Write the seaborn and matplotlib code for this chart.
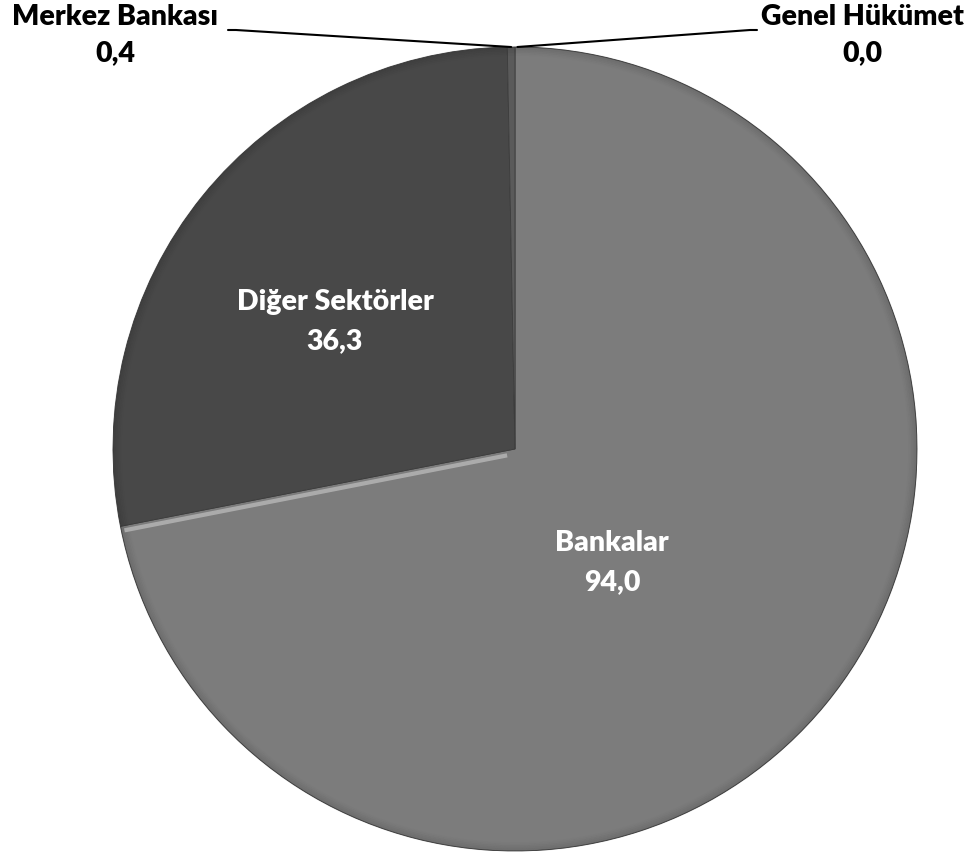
import numpy as np
import matplotlib
matplotlib.use("Agg")
import matplotlib.pyplot as plt
import seaborn as sns

# Sector shares (billion) shown clockwise from 12 o'clock
sectors = ["Genel Hükümet", "Bankalar", "Diğer Sektörler", "Merkez Bankası"]
values = [0.0, 94.0, 36.3, 0.4]
value_labels = ["0,0", "94,0", "36,3", "0,4"]
colors = ["#8a8a8a", "#7c7c7c", "#484848", "#5a5a5a"]

sns.set_theme(style="white")
plt.rcParams["font.family"] = ["Lato", "DejaVu Sans"]

W, H = 971, 855
fig = plt.figure(figsize=(W / 100, H / 100), dpi=100)
cx, cy, r = 515, 449, 402
ax = fig.add_axes([(cx - r) / W, (H - cy - r) / H, 2 * r / W, 2 * r / H])

wedges, _ = ax.pie(values, colors=colors, startangle=90, counterclock=False,
                   radius=1.0, wedgeprops=dict(edgecolor="#3c3c3c", linewidth=0.6))
ax.set_xlim(-1, 1)
ax.set_ylim(-1, 1)
ax.axis("off")

# soft darker rim for the bevel look
for k, a in enumerate(np.linspace(0.12, 0.01, 6)):
    circ = plt.Circle((0, 0), 1.0 - k * 0.004, fill=False, edgecolor="black",
                      linewidth=1.2, alpha=a)
    ax.add_patch(circ)

# light highlight along the Bankalar / Diğer Sektörler border
total = sum(values)
ang = np.deg2rad(90 - 360 * (values[0] + values[1]) / total)
t = np.linspace(0.02, 0.99, 50)
ax.plot(t * np.cos(ang), t * np.sin(ang) - 0.012,
        color="#b8b8b8", linewidth=3, alpha=0.8, solid_capstyle="butt")


def px(x, y):
    return (x - cx) / r, (cy - y) / r


fs = 20.5
style = dict(fontsize=fs, fontweight="heavy", ha="center", va="center")
# labels inside the larger slices
for name, val, (x, y) in [("Bankalar", "94,0", (612, 543)),
                          ("Diğer Sektörler", "36,3", (335, 302))]:
    ax.text(*px(x, y), name, color="white", **style)
    ax.text(*px(x, y + 39), val, color="white", **style)

# outside labels with leader lines
ax.text(*px(115, 17), "Merkez Bankası", color="black", clip_on=False, **style)
ax.text(*px(115, 53), "0,4", color="black", clip_on=False, **style)
ax.text(*px(862, 17), "Genel Hükümet", color="black", clip_on=False, **style)
ax.text(*px(862, 53), "0,0", color="black", clip_on=False, **style)

top = np.deg2rad(90 - 360 * (values[0] + values[1] + values[2] + values[3] / 2) / total)
tip_l = (np.cos(top), np.sin(top))
tip_r = (0.0, 1.0)
lx = [px(228, 30)[0], px(236, 30)[0], tip_l[0]]
ly = [px(228, 30)[1], px(236, 30)[1], tip_l[1]]
ax.plot(lx, ly, color="black", linewidth=1.5, clip_on=False)
rx = [tip_r[0] + 0.006, px(750, 30)[0], px(757, 30)[0]]
ry = [tip_r[1], px(750, 30)[1], px(757, 30)[1]]
ax.plot(rx, ry, color="black", linewidth=1.5, clip_on=False)

fig.savefig("out.png", dpi=100, facecolor="white")
